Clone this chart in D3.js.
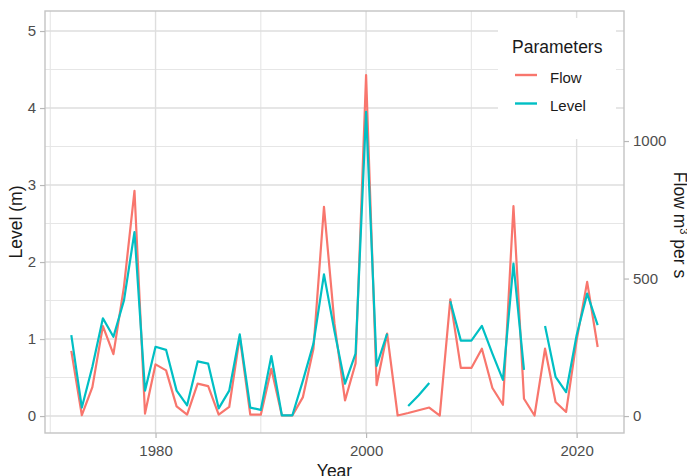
<!DOCTYPE html>
<html>
<head>
<meta charset="utf-8">
<script src="https://cdn.jsdelivr.net/npm/d3@7"></script>
<style>
  html, body { margin: 0; padding: 0; background: #fff; }
  svg { display: block; font-family: "Liberation Sans", Arial, sans-serif; }
</style>
</head>
<body>
<svg id="chart" width="687" height="476"></svg>
<script>
// Annual peak values, 1972–2022
const years = d3.range(1972, 2023);
const level = [
  1.05, 0.11, 0.64, 1.27, 1.03, 1.50, 2.39, 0.33, 0.90, 0.86,
  0.33, 0.14, 0.71, 0.68, 0.10, 0.33, 1.06, 0.11, 0.08, 0.78,
  0.01, 0.01, 0.46, 0.94, 1.84, 1.10, 0.42, 0.81, 3.95, 0.65,
  1.07, null, 0.13, 0.27, 0.43, null, 1.49, 0.98, 0.98, 1.17,
  0.81, 0.47, 1.98, 0.60, null, 1.17, 0.51, 0.31, 1.05, 1.59,
  1.18
];
const flow = [
  237, 3, 105, 327, 225, 470, 819, 9, 188, 166,
  35, 5, 118, 109, 5, 33, 288, 5, 5, 172,
  2, 2, 69, 245, 761, 335, 57, 191, 1240, 112,
  300, 2, 11, 21, 31, 2, 424, 175, 175, 245,
  102, 41, 763, 63, 2, 245, 51, 15, 275, 488,
  251
];
const flowScale = 280;          // flow (m³/s) per metre of level on the shared panel
const levelTicks = [0, 1, 2, 3, 4, 5];
const levelMinor = [0.5, 1.5, 2.5, 3.5, 4.5];
const flowTicks = [0, 500, 1000];
const yearTicks = [1980, 2000, 2020];
const yearMinor = [1970, 1990, 2010];
const seriesNames = ["Flow", "Level"];
const seriesColors = ["#F8766D", "#00BFC4"];

const svg = d3.select("#chart");
const panel = { left: 45, right: 624, top: 11, bottom: 433 };

// x: data extent expanded by 5% on each side
const xExt = d3.extent(years);
const xPad = (xExt[1] - xExt[0]) * 0.05;
const x = d3.scaleLinear().domain([xExt[0] - xPad, xExt[1] + xPad]).range([panel.left, panel.right]);
const y = d3.scaleLinear().domain([-0.22, 5.26]).range([panel.bottom, panel.top]);
const yFlow = d3.scaleLinear().domain(y.domain().map(v => v * flowScale)).range(y.range());

const g = svg.append("g");

// grid
const grid = g.append("g");
grid.selectAll(".hmin").data(levelMinor).join("line")
  .attr("x1", panel.left).attr("x2", panel.right)
  .attr("y1", d => y(d)).attr("y2", d => y(d))
  .attr("stroke", "#E6E6E6").attr("stroke-width", 1.1);
grid.selectAll(".vmin").data(yearMinor).join("line")
  .attr("y1", panel.top).attr("y2", panel.bottom)
  .attr("x1", d => x(d)).attr("x2", d => x(d))
  .attr("stroke", "#E6E6E6").attr("stroke-width", 1.1);
grid.selectAll(".hmaj").data(levelTicks).join("line")
  .attr("x1", panel.left).attr("x2", panel.right)
  .attr("y1", d => y(d)).attr("y2", d => y(d))
  .attr("stroke", "#DEDEDE").attr("stroke-width", 1.4);
grid.selectAll(".vmaj").data(yearTicks).join("line")
  .attr("y1", panel.top).attr("y2", panel.bottom)
  .attr("x1", d => x(d)).attr("x2", d => x(d))
  .attr("stroke", "#DEDEDE").attr("stroke-width", 1.4);

// series lines
const rows = years.map((yr, i) => ({ year: yr, level: level[i], flow: flow[i] }));
const flowLine = d3.line().x(d => x(d.year)).y(d => yFlow(d.flow));
const levelLine = d3.line().defined(d => d.level != null).x(d => x(d.year)).y(d => y(d.level));
g.append("path").datum(rows).attr("d", flowLine)
  .attr("fill", "none").attr("stroke", seriesColors[0]).attr("stroke-width", 2.2)
  .attr("stroke-linejoin", "round");
g.append("path").datum(rows).attr("d", levelLine)
  .attr("fill", "none").attr("stroke", seriesColors[1]).attr("stroke-width", 2.2)
  .attr("stroke-linejoin", "round");

// panel border
g.append("rect")
  .attr("x", panel.left).attr("y", panel.top)
  .attr("width", panel.right - panel.left).attr("height", panel.bottom - panel.top)
  .attr("fill", "none").attr("stroke", "#C4C4C4").attr("stroke-width", 1.4);

// axes
function styleAxis(sel) {
  sel.select(".domain").remove();
  sel.selectAll(".tick line").attr("stroke", "#B8B8B8").attr("stroke-width", 1.2);
  sel.selectAll(".tick text").attr("fill", "#4D4D4D").style("font-size", "15px");
}
svg.append("g").attr("transform", `translate(${panel.left},0)`)
  .call(d3.axisLeft(y).tickValues(levelTicks).tickSize(5).tickPadding(4).tickFormat(d3.format("d")))
  .call(styleAxis);
svg.append("g").attr("transform", `translate(${panel.right},0)`)
  .call(d3.axisRight(yFlow).tickValues(flowTicks).tickSize(5).tickPadding(4).tickFormat(d3.format("d")))
  .call(styleAxis);
svg.append("g").attr("transform", `translate(0,${panel.bottom})`)
  .call(d3.axisBottom(x).tickValues(yearTicks).tickSize(5).tickPadding(7).tickFormat(d3.format("d")))
  .call(styleAxis);

// axis titles
const midY = (panel.top + panel.bottom) / 2;
svg.append("text").attr("x", (panel.left + panel.right) / 2).attr("y", 477)
  .attr("text-anchor", "middle").attr("fill", "#1A1A1A").style("font-size", "17.5px").text("Year");
svg.append("text").attr("transform", `translate(22,${midY}) rotate(-90)`)
  .attr("text-anchor", "middle").attr("fill", "#1A1A1A").style("font-size", "17.5px").text("Level (m)");
const rt = svg.append("text").attr("transform", `translate(674,${midY + 3}) rotate(90)`)
  .attr("text-anchor", "middle").attr("fill", "#1A1A1A").style("font-size", "17.5px");
rt.append("tspan").text("Flow m");
rt.append("tspan").attr("baseline-shift", "super").style("font-size", "11px").text("3");
rt.append("tspan").text(" per s");

// legend
const lg = svg.append("g");
lg.append("rect").attr("x", 498).attr("y", 18).attr("width", 118).attr("height", 121).attr("fill", "#fff");
lg.append("text").attr("x", 512).attr("y", 53).attr("fill", "#1A1A1A")
  .style("font-size", "17.5px").text("Parameters");
const items = lg.selectAll(".item").data(seriesNames).join("g")
  .attr("transform", (d, i) => `translate(515,${75 + i * 28.5})`);
items.append("line").attr("x1", 0).attr("x2", 22).attr("y1", 0).attr("y2", 0)
  .attr("stroke", (d, i) => seriesColors[i]).attr("stroke-width", 2.4);
items.append("text").attr("x", 35).attr("y", 7.5).attr("fill", "#1A1A1A")
  .style("font-size", "15px").text(d => d);
</script>
</body>
</html>
